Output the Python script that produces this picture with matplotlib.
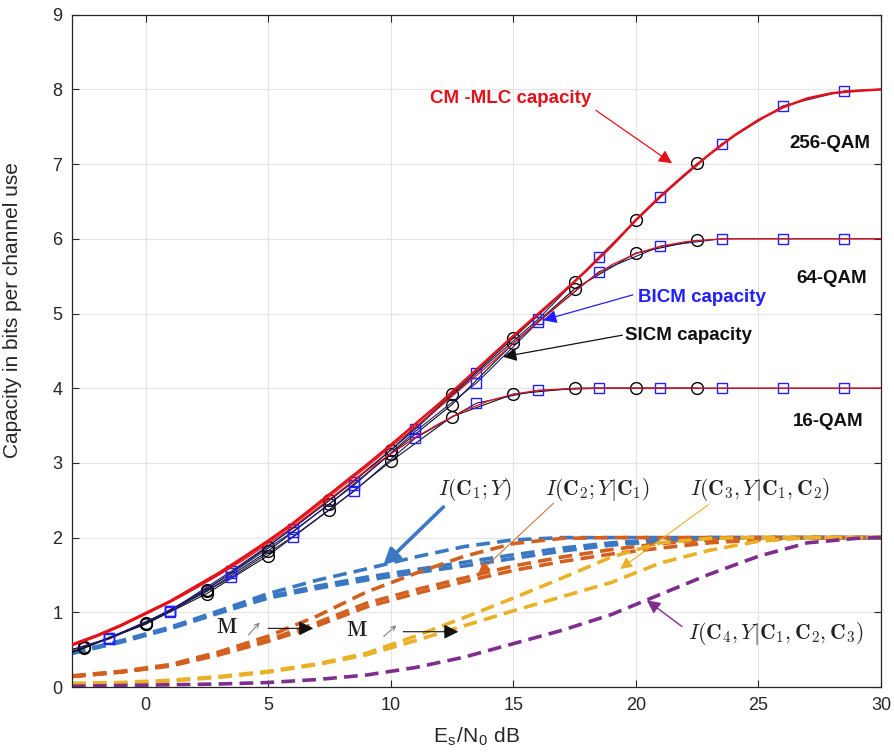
import matplotlib
matplotlib.use('Agg')
import matplotlib.pyplot as plt

plt.rcParams['font.family'] = ['Liberation Sans', 'DejaVu Sans']
plt.rcParams['mathtext.fontset'] = 'cm'

# ----- coded-modulation (CM-MLC) capacity, 1 dB grid
x_cm = [-3, -2, -1, 0, 1, 2, 3, 4, 5, 6, 7, 8, 9, 10, 11, 12, 13, 14, 15, 16,
        17, 18, 19, 20, 21, 22, 23, 24, 25, 26, 27, 28, 29, 30]
cm_256 = [0.57, 0.69, 0.83, 0.99, 1.15, 1.34, 1.53, 1.74, 1.96, 2.19, 2.45, 2.71, 2.97, 3.24,
          3.52, 3.80, 4.10, 4.40, 4.70, 4.99, 5.28, 5.58, 5.90, 6.25, 6.57, 6.86, 7.13, 7.38,
          7.59, 7.76, 7.88, 7.95, 7.98, 8.00]
cm_64 = [0.56, 0.68, 0.82, 0.98, 1.14, 1.32, 1.51, 1.72, 1.94, 2.17, 2.42, 2.68, 2.94, 3.21,
         3.48, 3.75, 4.03, 4.31, 4.60, 4.88, 5.16, 5.43, 5.65, 5.80, 5.90, 5.96, 5.99, 6.00,
         6.00, 6.00, 6.00, 6.00, 6.00, 6.00]
cm_16 = [0.55, 0.67, 0.81, 0.97, 1.13, 1.31, 1.50, 1.70, 1.92, 2.14, 2.39, 2.64, 2.89, 3.12,
         3.34, 3.53, 3.70, 3.83, 3.92, 3.97, 3.99, 4.00, 4.00, 4.00, 4.00, 4.00, 4.00, 4.00,
         4.00, 4.00, 4.00, 4.00, 4.00, 4.00]

# ----- BICM capacity (squares), first point is only line start
x_bicm = [-3, -1.5, 1, 3.5, 6, 8.5, 11, 13.5, 16, 18.5, 21, 23.5, 26, 28.5, 30]
bicm_256 = [0.50, 0.65, 1.02, 1.55, 2.12, 2.75, 3.45, 4.20, 4.92, 5.76, 6.56, 7.27, 7.78, 7.98, 8.00]
bicm_64 = [0.50, 0.65, 1.02, 1.52, 2.08, 2.70, 3.42, 4.07, 4.88, 5.56, 5.90, 6.00, 6.00, 6.00, 6.00]
bicm_16 = [0.50, 0.64, 1.01, 1.47, 2.01, 2.62, 3.33, 3.80, 3.97, 4.00, 4.00, 4.00, 4.00, 4.00, 4.00]

# ----- SICM capacity (circles)
x_sicm = [-3, -2.5, 0, 2.5, 5, 7.5, 10, 12.5, 15, 17.5, 20, 22.5]
sicm_256 = [0.47, 0.53, 0.86, 1.30, 1.88, 2.50, 3.17, 3.92, 4.67, 5.42, 6.25, 7.01]
sicm_64 = [0.47, 0.53, 0.85, 1.28, 1.82, 2.45, 3.12, 3.78, 4.60, 5.33, 5.81, 5.98]
sicm_16 = [0.46, 0.52, 0.84, 1.25, 1.76, 2.37, 3.02, 3.62, 3.92, 4.00, 4.00, 4.00]

# ----- per-level mutual information (dashed)
x_lvl = [-3, -1, 1, 3, 5, 7, 9, 11, 13, 15, 17, 19, 21, 23, 25, 27, 29, 30]
l1_16 = [0.46, 0.62, 0.80, 1.02, 1.25, 1.43, 1.58, 1.74, 1.88, 1.97, 2.0, 2.0, 2.0, 2.0, 2.0, 2.0, 2.0, 2.0]
l1_64 = [0.45, 0.61, 0.79, 1.00, 1.21, 1.35, 1.47, 1.57, 1.67, 1.77, 1.86, 1.93, 1.97, 2.0, 2.0, 2.0, 2.0, 2.0]
l1_256 = [0.45, 0.60, 0.78, 0.99, 1.19, 1.32, 1.43, 1.53, 1.62, 1.72, 1.82, 1.90, 1.95, 1.99, 2.0, 2.0, 2.0, 2.0]
l2_16 = [0.15, 0.21, 0.30, 0.47, 0.68, 0.95, 1.27, 1.52, 1.75, 1.92, 1.99, 2.0, 2.0, 2.0, 2.0, 2.0, 2.0, 2.0]
l2_64 = [0.14, 0.20, 0.29, 0.44, 0.63, 0.86, 1.12, 1.30, 1.46, 1.62, 1.74, 1.84, 1.92, 1.97, 2.0, 2.0, 2.0, 2.0]
l2_256 = [0.14, 0.20, 0.28, 0.43, 0.61, 0.82, 1.07, 1.25, 1.41, 1.56, 1.68, 1.78, 1.86, 1.93, 1.97, 2.0, 2.0, 2.0]
l3_64 = [0.05, 0.06, 0.09, 0.14, 0.21, 0.31, 0.45, 0.68, 0.93, 1.19, 1.46, 1.74, 1.93, 1.99, 2.0, 2.0, 2.0, 2.0]
l3_256 = [0.04, 0.05, 0.08, 0.13, 0.20, 0.30, 0.43, 0.62, 0.82, 1.02, 1.21, 1.40, 1.66, 1.83, 1.95, 2.0, 2.0, 2.0]
l4_256 = [0.01, 0.02, 0.03, 0.04, 0.06, 0.10, 0.16, 0.26, 0.40, 0.58, 0.76, 0.97, 1.24, 1.51, 1.75, 1.93, 1.99, 2.0]

c_blue = '#3b78c3'
c_orange = '#d3601f'
c_yellow = '#e9b125'
c_purple = '#7e2f8e'
c_red = '#e3121a'
dash = (3.8, 2.0)

fig = plt.figure(figsize=(8.95, 7.55), dpi=100)
ax = fig.add_axes([72 / 895, 1 - 687 / 755, 809 / 895, 672.3 / 755])

# ----- dashed level curves
for y in (l1_16, l1_64, l1_256):
    ax.plot(x_lvl, y, color=c_blue, lw=2.6, dashes=dash, zorder=2)
for y in (l2_16, l2_64, l2_256):
    ax.plot(x_lvl, y, color=c_orange, lw=2.6, dashes=dash, zorder=2)
for y in (l3_64, l3_256):
    ax.plot(x_lvl, y, color=c_yellow, lw=2.6, dashes=dash, zorder=2)
ax.plot(x_lvl, l4_256, color=c_purple, lw=2.6, dashes=dash, zorder=2)

# ----- capacity curves
for y in (sicm_16, sicm_64, sicm_256):
    ax.plot(x_sicm, y, '-', color='#111111', lw=0.8, marker='o', ms=8.5, mfc='none',
            mec='black', mew=1.0, markevery=slice(1, None), zorder=3)
for y in (bicm_16, bicm_64, bicm_256):
    ax.plot(x_bicm, y, '-', color='#1a1a6e', lw=0.8, marker='s', ms=6.5, mfc='none',
            mec='#1f1fff', mew=1.0, markevery=slice(1, 14), zorder=3)
ax.plot(x_cm, cm_16, '-', color=c_red, lw=0.9, zorder=4)
ax.plot(x_cm, cm_64, '-', color=c_red, lw=0.9, zorder=4)
ax.plot(x_cm, cm_256, '-', color=c_red, lw=1.8, zorder=4)

# ----- axes decoration (MATLAB look)
ax.set_xlim(-3, 30)
ax.set_ylim(0, 9)
ax.set_xticks([0, 5, 10, 15, 20, 25, 30])
ax.set_yticks(range(10))
ax.grid(True, color='#e4e4e4', lw=0.8, zorder=0)
ax.set_axisbelow(True)
ax.tick_params(direction='in', top=True, right=True, length=5, width=0.8,
               labelsize=13, colors='#262626', pad=7)
for s in ax.spines.values():
    s.set_color('#262626')
    s.set_linewidth(0.9)
ax.set_xlabel(r'E$_\mathregular{s}$/N$_\mathregular{0}$ dB', fontsize=15, color='#262626')
ax.set_ylabel('Capacity in bits per channel use', fontsize=15, color='#262626')
ax.xaxis.set_label_coords(0.5, -0.057)
ax.yaxis.set_label_coords(-0.062, 0.561)

# ----- text labels and arrows
bold = dict(fontsize=13.5, fontweight='bold', ha='center', va='center')
ax.text(14.91, 7.88, 'CM -MLC capacity', color=c_red, **bold)
ax.text(27.93, 7.28, '256-QAM', color='#111111', **bold)
ax.text(27.97, 5.47, '64-QAM', color='#111111', **bold)
ax.text(22.71, 5.21, 'BICM capacity', color='#1f1fff', **bold)
ax.text(22.13, 4.70, 'SICM capacity', color='#111111', **bold)
ax.text(27.85, 3.55, '16-QAM', color='#111111', **bold)


def arrow(tail, head, color, lw=0.8, ms=18):
    ax.annotate('', xy=head, xytext=tail, zorder=6,
                arrowprops=dict(arrowstyle='-|>', color=color, lw=lw,
                                mutation_scale=ms, shrinkA=0, shrinkB=0))


arrow((18.37, 7.72), (21.48, 7.01), c_red, lw=0.9, ms=20)
arrow((19.88, 5.25), (16.22, 4.91), '#1f1fff', lw=0.9, ms=20)
arrow((19.45, 4.71), (14.59, 4.42), '#111111', lw=0.9, ms=20)

math = dict(fontsize=15.5, ha='center', va='center', color='#222222')
ax.text(13.44, 2.64, r'$I(\mathbf{C}_1;Y)$', **math)
ax.text(18.42, 2.64, r'$I(\mathbf{C}_2;Y|\mathbf{C}_1)$', **math)
ax.text(25.05, 2.64, r'$I(\mathbf{C}_3,Y|\mathbf{C}_1,\mathbf{C}_2)$', **math)
ax.text(25.70, 0.72, r'$I(\mathbf{C}_4,Y|\mathbf{C}_1,\mathbf{C}_2,\mathbf{C}_3)$', **math)
arrow((12.15, 2.41), (9.70, 1.63), c_blue, lw=2.6, ms=24)
arrow((16.64, 2.46), (13.58, 1.52), c_orange, lw=0.7, ms=18)
arrow((22.96, 2.44), (19.36, 1.58), c_yellow, lw=0.8, ms=18)
arrow((21.88, 0.81), (20.45, 1.16), c_purple, lw=1.0, ms=20)

# ----- "M increases" markers
for mx, my in ((3.30, 0.79), (8.61, 0.76)):
    ax.text(mx, my, r'$\mathbf{M}$', fontsize=15.5, ha='center', va='center', color='#222222')
ax.annotate('', xy=(4.73, 0.89), xytext=(4.12, 0.67),
            arrowprops=dict(arrowstyle='->', color='#777777', lw=0.7, mutation_scale=8))
ax.annotate('', xy=(10.31, 0.85), xytext=(9.63, 0.65),
            arrowprops=dict(arrowstyle='->', color='#777777', lw=0.7, mutation_scale=8))
arrow((5.00, 0.785), (6.84, 0.785), '#111111', lw=0.8, ms=22)
arrow((10.51, 0.74), (12.76, 0.74), '#111111', lw=0.8, ms=22)

fig.savefig('out.png', dpi=100)
plt.close(fig)
